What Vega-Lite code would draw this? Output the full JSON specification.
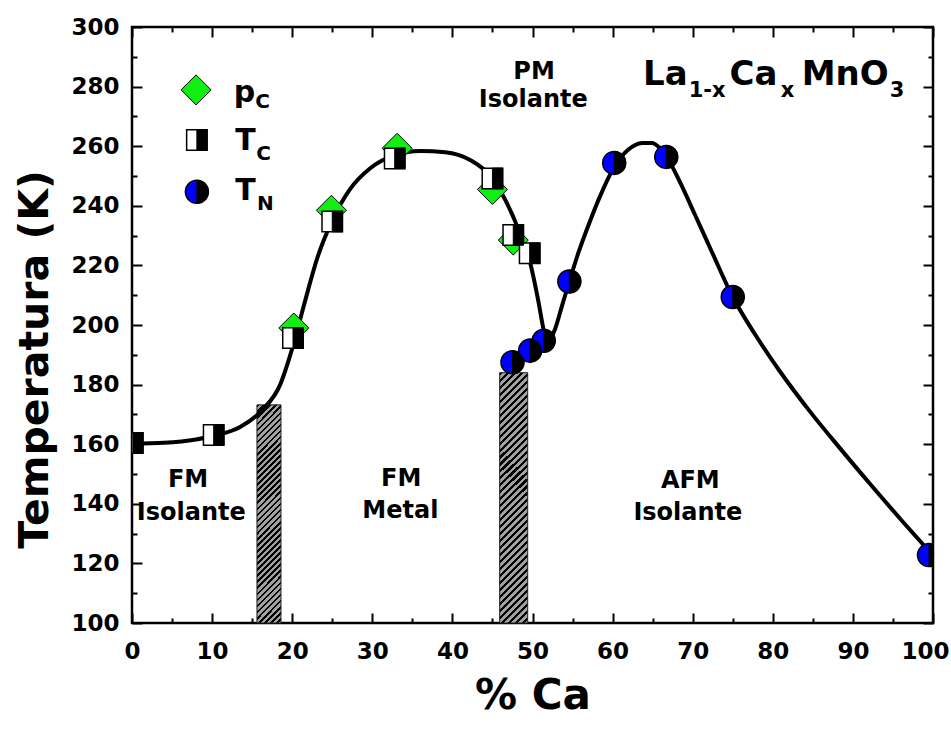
{
  "$schema": "https://vega.github.io/schema/vega-lite/v6.json",
  "width": 801,
  "height": 596,
  "autosize": {"type": "none"},
  "padding": {"left": 132, "top": 27, "right": 18, "bottom": 106},
  "background": "white",
  "config": {"view": {"stroke": "black", "strokeWidth": 2.5}, "font": "DejaVu Sans"},
  "datasets": {
    "bars": [
      {"x0": 15.6, "x1": 18.6, "y0": 100, "y1": 173.2},
      {"x0": 45.9, "x1": 49.4, "y0": 100, "y1": 184}
    ],
    "curve": [
      {"seg": "a", "x": 0, "y": 160.2},
      {"seg": "a", "x": 4, "y": 160.5},
      {"seg": "a", "x": 8, "y": 161.6},
      {"seg": "a", "x": 10.5, "y": 163},
      {"seg": "a", "x": 13.5, "y": 165.8},
      {"seg": "a", "x": 16.2, "y": 171.3},
      {"seg": "a", "x": 18.5, "y": 180},
      {"seg": "a", "x": 20.1, "y": 193},
      {"seg": "a", "x": 21.6, "y": 208},
      {"seg": "a", "x": 23.2, "y": 223},
      {"seg": "a", "x": 25, "y": 235},
      {"seg": "a", "x": 27.2, "y": 245.5},
      {"seg": "a", "x": 29.7, "y": 252.5},
      {"seg": "a", "x": 32.8, "y": 257},
      {"seg": "a", "x": 36, "y": 258.4},
      {"seg": "a", "x": 39.1, "y": 258},
      {"seg": "a", "x": 42.2, "y": 255.4},
      {"seg": "a", "x": 44.9, "y": 249.5},
      {"seg": "a", "x": 46.6, "y": 242},
      {"seg": "a", "x": 48.4, "y": 231},
      {"seg": "a", "x": 49.7, "y": 221},
      {"seg": "a", "x": 50.7, "y": 208.4},
      {"seg": "a", "x": 51.3, "y": 199.5},
      {"seg": "a", "x": 51.8, "y": 193},
      {"seg": "b", "x": 51.8, "y": 193},
      {"seg": "b", "x": 52.8, "y": 198.5},
      {"seg": "b", "x": 53.8, "y": 207.5},
      {"seg": "b", "x": 54.6, "y": 214.6},
      {"seg": "b", "x": 55.7, "y": 224},
      {"seg": "b", "x": 57.2, "y": 235},
      {"seg": "b", "x": 58.4, "y": 243},
      {"seg": "b", "x": 60.2, "y": 253},
      {"seg": "b", "x": 61.9, "y": 258.7},
      {"seg": "b", "x": 63.7, "y": 261.1},
      {"seg": "b", "x": 64.9, "y": 261.1},
      {"seg": "b", "x": 65.9, "y": 259.4},
      {"seg": "b", "x": 66.9, "y": 255.8},
      {"seg": "b", "x": 68.4, "y": 248},
      {"seg": "b", "x": 70.3, "y": 236.9},
      {"seg": "b", "x": 72.4, "y": 224.5},
      {"seg": "b", "x": 75, "y": 209.4},
      {"seg": "b", "x": 77.8, "y": 196.8},
      {"seg": "b", "x": 80.9, "y": 184.4},
      {"seg": "b", "x": 84.6, "y": 171.1},
      {"seg": "b", "x": 88.4, "y": 158.6},
      {"seg": "b", "x": 92.1, "y": 146.8},
      {"seg": "b", "x": 95.9, "y": 135.0},
      {"seg": "b", "x": 100, "y": 122.7}
    ],
    "points": [
      {"series": "pC", "x": 20.2, "y": 199},
      {"series": "pC", "x": 24.9, "y": 238.5},
      {"series": "pC", "x": 33.1, "y": 259.3},
      {"series": "pC", "x": 45.0, "y": 245.5},
      {"series": "pC", "x": 47.6, "y": 228.5},
      {"series": "pC", "x": 8.0, "y": 278.9},
      {"series": "TC", "x": 0.1, "y": 160.4},
      {"series": "TC", "x": 10.2, "y": 163.1},
      {"series": "TC", "x": 20.1, "y": 195.6},
      {"series": "TC", "x": 25, "y": 234.7},
      {"series": "TC", "x": 32.8, "y": 255.9},
      {"series": "TC", "x": 45, "y": 249.2},
      {"series": "TC", "x": 47.6, "y": 230.2},
      {"series": "TC", "x": 49.65, "y": 224.1},
      {"series": "TC", "x": 8.1, "y": 262.1},
      {"series": "TN", "x": 47.5, "y": 187.5},
      {"series": "TN", "x": 49.7, "y": 191.4},
      {"series": "TN", "x": 51.4, "y": 194.7},
      {"series": "TN", "x": 54.6, "y": 214.6},
      {"series": "TN", "x": 60.2, "y": 254.4},
      {"series": "TN", "x": 66.7, "y": 256.4},
      {"series": "TN", "x": 75, "y": 209.4},
      {"series": "TN", "x": 99.5, "y": 122.8},
      {"series": "TN", "x": 8.1, "y": 244.7}
    ],
    "texts": [
      {"role": "region", "x": 7.0, "y": 148, "t": "FM"},
      {"role": "region", "x": 7.4, "y": 136.9, "t": "Isolante"},
      {"role": "region", "x": 33.6, "y": 148.3, "t": "FM"},
      {"role": "region", "x": 33.5, "y": 137.6, "t": "Metal"},
      {"role": "region", "x": 50.2, "y": 284.9, "t": "PM"},
      {"role": "region", "x": 50.1, "y": 275.5, "t": "Isolante"},
      {"role": "region", "x": 69.7, "y": 147.7, "t": "AFM"},
      {"role": "region", "x": 69.4, "y": 136.9, "t": "Isolante"},
      {"role": "legMain", "x": 12.7, "y": 274.9, "t": "p"},
      {"role": "legSub", "x": 15.4, "y": 272.9, "t": "C"},
      {"role": "legMain", "x": 12.9, "y": 258.7, "t": "T"},
      {"role": "legSub", "x": 15.5, "y": 255.4, "t": "C"},
      {"role": "legMain", "x": 12.9, "y": 241.9, "t": "T"},
      {"role": "legSub", "x": 15.6, "y": 238.6, "t": "N"},
      {"role": "titMain", "x": 63.8, "y": 280.5, "t": "La"},
      {"role": "titSub", "x": 69.5, "y": 276.6, "t": "1-x"},
      {"role": "titMain", "x": 74.6, "y": 280.5, "t": "Ca"},
      {"role": "titSub", "x": 81.0, "y": 276.6, "t": "x"},
      {"role": "titMain", "x": 83.6, "y": 280.5, "t": "MnO"},
      {"role": "titSub", "x": 94.6, "y": 276.6, "t": "3"}
    ]
  },
  "resolve": {"axis": {"x": "independent", "y": "independent"}},
  "layer": [
    {
      "data": {"name": "bars"},
      "mark": {
        "type": "rect",
        "stroke": "#222",
        "strokeWidth": 1,
        "fill": {
          "gradient": "linear", "x1": 0, "y1": 0, "x2": 0.122, "y2": 1.1,
          "stops": [
            {"offset": 0, "color": "#000"}, {"offset": 0.011, "color": "#000"}, {"offset": 0.011, "color": "#a0a0a0"}, {"offset": 0.025, "color": "#a0a0a0"},
            {"offset": 0.025, "color": "#000"}, {"offset": 0.036, "color": "#000"}, {"offset": 0.036, "color": "#a0a0a0"}, {"offset": 0.05, "color": "#a0a0a0"},
            {"offset": 0.05, "color": "#000"}, {"offset": 0.061, "color": "#000"}, {"offset": 0.061, "color": "#a0a0a0"}, {"offset": 0.075, "color": "#a0a0a0"},
            {"offset": 0.075, "color": "#000"}, {"offset": 0.086, "color": "#000"}, {"offset": 0.086, "color": "#a0a0a0"}, {"offset": 0.1, "color": "#a0a0a0"},
            {"offset": 0.1, "color": "#000"}, {"offset": 0.111, "color": "#000"}, {"offset": 0.111, "color": "#a0a0a0"}, {"offset": 0.125, "color": "#a0a0a0"},
            {"offset": 0.125, "color": "#000"}, {"offset": 0.136, "color": "#000"}, {"offset": 0.136, "color": "#a0a0a0"}, {"offset": 0.15, "color": "#a0a0a0"},
            {"offset": 0.15, "color": "#000"}, {"offset": 0.161, "color": "#000"}, {"offset": 0.161, "color": "#a0a0a0"}, {"offset": 0.175, "color": "#a0a0a0"},
            {"offset": 0.175, "color": "#000"}, {"offset": 0.186, "color": "#000"}, {"offset": 0.186, "color": "#a0a0a0"}, {"offset": 0.2, "color": "#a0a0a0"},
            {"offset": 0.2, "color": "#000"}, {"offset": 0.211, "color": "#000"}, {"offset": 0.211, "color": "#a0a0a0"}, {"offset": 0.225, "color": "#a0a0a0"},
            {"offset": 0.225, "color": "#000"}, {"offset": 0.236, "color": "#000"}, {"offset": 0.236, "color": "#a0a0a0"}, {"offset": 0.25, "color": "#a0a0a0"},
            {"offset": 0.25, "color": "#000"}, {"offset": 0.261, "color": "#000"}, {"offset": 0.261, "color": "#a0a0a0"}, {"offset": 0.275, "color": "#a0a0a0"},
            {"offset": 0.275, "color": "#000"}, {"offset": 0.286, "color": "#000"}, {"offset": 0.286, "color": "#a0a0a0"}, {"offset": 0.3, "color": "#a0a0a0"},
            {"offset": 0.3, "color": "#000"}, {"offset": 0.311, "color": "#000"}, {"offset": 0.311, "color": "#a0a0a0"}, {"offset": 0.325, "color": "#a0a0a0"},
            {"offset": 0.325, "color": "#000"}, {"offset": 0.336, "color": "#000"}, {"offset": 0.336, "color": "#a0a0a0"}, {"offset": 0.35, "color": "#a0a0a0"},
            {"offset": 0.35, "color": "#000"}, {"offset": 0.361, "color": "#000"}, {"offset": 0.361, "color": "#a0a0a0"}, {"offset": 0.375, "color": "#a0a0a0"},
            {"offset": 0.375, "color": "#000"}, {"offset": 0.386, "color": "#000"}, {"offset": 0.386, "color": "#a0a0a0"}, {"offset": 0.4, "color": "#a0a0a0"},
            {"offset": 0.4, "color": "#000"}, {"offset": 0.411, "color": "#000"}, {"offset": 0.411, "color": "#a0a0a0"}, {"offset": 0.425, "color": "#a0a0a0"},
            {"offset": 0.425, "color": "#000"}, {"offset": 0.436, "color": "#000"}, {"offset": 0.436, "color": "#a0a0a0"}, {"offset": 0.45, "color": "#a0a0a0"},
            {"offset": 0.45, "color": "#000"}, {"offset": 0.461, "color": "#000"}, {"offset": 0.461, "color": "#a0a0a0"}, {"offset": 0.475, "color": "#a0a0a0"},
            {"offset": 0.475, "color": "#000"}, {"offset": 0.486, "color": "#000"}, {"offset": 0.486, "color": "#a0a0a0"}, {"offset": 0.5, "color": "#a0a0a0"},
            {"offset": 0.5, "color": "#000"}, {"offset": 0.511, "color": "#000"}, {"offset": 0.511, "color": "#a0a0a0"}, {"offset": 0.525, "color": "#a0a0a0"},
            {"offset": 0.525, "color": "#000"}, {"offset": 0.536, "color": "#000"}, {"offset": 0.536, "color": "#a0a0a0"}, {"offset": 0.55, "color": "#a0a0a0"},
            {"offset": 0.55, "color": "#000"}, {"offset": 0.561, "color": "#000"}, {"offset": 0.561, "color": "#a0a0a0"}, {"offset": 0.575, "color": "#a0a0a0"},
            {"offset": 0.575, "color": "#000"}, {"offset": 0.586, "color": "#000"}, {"offset": 0.586, "color": "#a0a0a0"}, {"offset": 0.6, "color": "#a0a0a0"},
            {"offset": 0.6, "color": "#000"}, {"offset": 0.611, "color": "#000"}, {"offset": 0.611, "color": "#a0a0a0"}, {"offset": 0.625, "color": "#a0a0a0"},
            {"offset": 0.625, "color": "#000"}, {"offset": 0.636, "color": "#000"}, {"offset": 0.636, "color": "#a0a0a0"}, {"offset": 0.65, "color": "#a0a0a0"},
            {"offset": 0.65, "color": "#000"}, {"offset": 0.661, "color": "#000"}, {"offset": 0.661, "color": "#a0a0a0"}, {"offset": 0.675, "color": "#a0a0a0"},
            {"offset": 0.675, "color": "#000"}, {"offset": 0.686, "color": "#000"}, {"offset": 0.686, "color": "#a0a0a0"}, {"offset": 0.7, "color": "#a0a0a0"},
            {"offset": 0.7, "color": "#000"}, {"offset": 0.711, "color": "#000"}, {"offset": 0.711, "color": "#a0a0a0"}, {"offset": 0.725, "color": "#a0a0a0"},
            {"offset": 0.725, "color": "#000"}, {"offset": 0.736, "color": "#000"}, {"offset": 0.736, "color": "#a0a0a0"}, {"offset": 0.75, "color": "#a0a0a0"},
            {"offset": 0.75, "color": "#000"}, {"offset": 0.761, "color": "#000"}, {"offset": 0.761, "color": "#a0a0a0"}, {"offset": 0.775, "color": "#a0a0a0"},
            {"offset": 0.775, "color": "#000"}, {"offset": 0.786, "color": "#000"}, {"offset": 0.786, "color": "#a0a0a0"}, {"offset": 0.8, "color": "#a0a0a0"},
            {"offset": 0.8, "color": "#000"}, {"offset": 0.811, "color": "#000"}, {"offset": 0.811, "color": "#a0a0a0"}, {"offset": 0.825, "color": "#a0a0a0"},
            {"offset": 0.825, "color": "#000"}, {"offset": 0.836, "color": "#000"}, {"offset": 0.836, "color": "#a0a0a0"}, {"offset": 0.85, "color": "#a0a0a0"},
            {"offset": 0.85, "color": "#000"}, {"offset": 0.861, "color": "#000"}, {"offset": 0.861, "color": "#a0a0a0"}, {"offset": 0.875, "color": "#a0a0a0"},
            {"offset": 0.875, "color": "#000"}, {"offset": 0.886, "color": "#000"}, {"offset": 0.886, "color": "#a0a0a0"}, {"offset": 0.9, "color": "#a0a0a0"},
            {"offset": 0.9, "color": "#000"}, {"offset": 0.911, "color": "#000"}, {"offset": 0.911, "color": "#a0a0a0"}, {"offset": 0.925, "color": "#a0a0a0"},
            {"offset": 0.925, "color": "#000"}, {"offset": 0.936, "color": "#000"}, {"offset": 0.936, "color": "#a0a0a0"}, {"offset": 0.95, "color": "#a0a0a0"},
            {"offset": 0.95, "color": "#000"}, {"offset": 0.961, "color": "#000"}, {"offset": 0.961, "color": "#a0a0a0"}, {"offset": 0.975, "color": "#a0a0a0"},
            {"offset": 0.975, "color": "#000"}, {"offset": 0.986, "color": "#000"}, {"offset": 0.986, "color": "#a0a0a0"}, {"offset": 1, "color": "#a0a0a0"}
          ]
        }
      },
      "encoding": {
        "x": {"field": "x0", "type": "quantitative", "scale": {"domain": [0, 100], "nice": false, "zero": false},
          "axis": {"orient": "bottom", "values": [0, 10, 20, 30, 40, 50, 60, 70, 80, 90, 100], "ticks": false, "tickSize": 0, "domain": false, "grid": false,
            "labelFont": "DejaVu Sans", "labelFontWeight": "bold", "labelFontSize": 23, "labelColor": "black", "labelPadding": 17, "labelFlush": false, "labelOverlap": false, "labelBound": false,
            "labelAlign": {"condition": {"test": "datum.value === 100", "value": "right"}, "value": "center"},
            "labelOffset": {"condition": {"test": "datum.value === 100", "value": 16}, "value": 0},
            "title": "% Ca", "titleFont": "DejaVu Sans", "titleFontWeight": "bold", "titleFontSize": 42, "titleColor": "black", "titlePadding": 12}},
        "x2": {"field": "x1"},
        "y": {"field": "y0", "type": "quantitative", "scale": {"domain": [100, 300], "nice": false, "zero": false},
          "axis": {"orient": "left", "values": [100, 120, 140, 160, 180, 200, 220, 240, 260, 280, 300], "ticks": false, "tickSize": 0, "domain": false, "grid": false,
            "labelFont": "DejaVu Sans", "labelFontWeight": "bold", "labelFontSize": 23, "labelColor": "black", "labelPadding": 13, "labelFlush": false, "labelOverlap": false, "labelBound": false,
            "title": "Temperatura (K)", "titleFont": "DejaVu Sans", "titleFontWeight": "bold", "titleFontSize": 41, "titleColor": "black", "titlePadding": 14, "titleY": 332}},
        "y2": {"field": "y1"}
      }
    },
    {
      "data": {"name": "curve"},
      "mark": {"type": "line", "color": "black", "strokeWidth": 4, "interpolate": "monotone"},
      "encoding": {
        "x": {"field": "x", "type": "quantitative", "scale": {"domain": [0, 100], "nice": false, "zero": false},
          "axis": {"orient": "bottom", "values": [0, 10, 20, 30, 40, 50, 60, 70, 80, 90, 100], "labels": false, "domain": false, "grid": false, "tickSize": -10, "tickWidth": 2, "tickColor": "black", "title": null}},
        "y": {"field": "y", "type": "quantitative", "scale": {"domain": [100, 300], "nice": false, "zero": false},
          "axis": {"orient": "left", "values": [100, 120, 140, 160, 180, 200, 220, 240, 260, 280, 300], "labels": false, "domain": false, "grid": false, "tickSize": -10, "tickWidth": 2, "tickColor": "black", "title": null}},
        "detail": {"field": "seg"}
      }
    },
    {
      "data": {"name": "points"},
      "transform": [{"filter": "datum.series === 'pC'"}],
      "mark": {"type": "point", "shape": "diamond", "size": 900, "filled": true, "fill": "#11ee11", "stroke": "black", "strokeWidth": 1, "opacity": 1, "clip": true},
      "encoding": {
        "x": {"field": "x", "type": "quantitative", "scale": {"domain": [0, 100], "nice": false, "zero": false},
          "axis": {"orient": "bottom", "values": [5, 15, 25, 35, 45, 55, 65, 75, 85, 95], "labels": false, "domain": false, "grid": false, "tickSize": -5, "tickWidth": 2, "tickColor": "black", "title": null}},
        "y": {"field": "y", "type": "quantitative", "scale": {"domain": [100, 300], "nice": false, "zero": false},
          "axis": {"orient": "left", "values": [110, 130, 150, 170, 190, 210, 230, 250, 270, 290], "labels": false, "domain": false, "grid": false, "tickSize": -5, "tickWidth": 2, "tickColor": "black", "title": null}}
      }
    },
    {
      "data": {"name": "points"},
      "transform": [{"filter": "datum.series === 'TC'"}],
      "mark": {"type": "point", "shape": "square", "size": 420, "filled": true, "fill": "white", "stroke": "black", "strokeWidth": 1.5, "opacity": 1, "clip": true},
      "encoding": {
        "x": {"field": "x", "type": "quantitative", "scale": {"domain": [0, 100], "nice": false, "zero": false},
          "axis": {"orient": "top", "values": [0, 10, 20, 30, 40, 50, 60, 70, 80, 90, 100], "labels": false, "domain": false, "grid": false, "tickSize": -10, "tickWidth": 2, "tickColor": "black", "title": null}},
        "y": {"field": "y", "type": "quantitative", "scale": {"domain": [100, 300], "nice": false, "zero": false},
          "axis": {"orient": "right", "values": [100, 120, 140, 160, 180, 200, 220, 240, 260, 280, 300], "labels": false, "domain": false, "grid": false, "tickSize": -10, "tickWidth": 2, "tickColor": "black", "title": null}}
      }
    },
    {
      "data": {"name": "points"},
      "transform": [{"filter": "datum.series === 'TC'"}],
      "mark": {"type": "point", "shape": "M0,-1L1,-1L1,1L0,1Z", "size": 420, "filled": true, "fill": "black", "stroke": "black", "strokeWidth": 1, "opacity": 1, "clip": true},
      "encoding": {
        "x": {"field": "x", "type": "quantitative", "scale": {"domain": [0, 100], "nice": false, "zero": false},
          "axis": {"orient": "top", "values": [5, 15, 25, 35, 45, 55, 65, 75, 85, 95], "labels": false, "domain": false, "grid": false, "tickSize": -5, "tickWidth": 2, "tickColor": "black", "title": null}},
        "y": {"field": "y", "type": "quantitative", "scale": {"domain": [100, 300], "nice": false, "zero": false},
          "axis": {"orient": "right", "values": [110, 130, 150, 170, 190, 210, 230, 250, 270, 290], "labels": false, "domain": false, "grid": false, "tickSize": -5, "tickWidth": 2, "tickColor": "black", "title": null}}
      }
    },
    {
      "data": {"name": "points"},
      "transform": [{"filter": "datum.series === 'TN'"}],
      "mark": {"type": "point", "shape": "circle", "size": 530, "filled": true, "fill": "#0000ff", "stroke": "black", "strokeWidth": 1.5, "opacity": 1, "clip": true},
      "encoding": {
        "x": {"field": "x", "type": "quantitative", "scale": {"domain": [0, 100], "nice": false, "zero": false}, "axis": null},
        "y": {"field": "y", "type": "quantitative", "scale": {"domain": [100, 300], "nice": false, "zero": false}, "axis": null}
      }
    },
    {
      "data": {"name": "points"},
      "transform": [{"filter": "datum.series === 'TN'"}],
      "mark": {"type": "point", "shape": "M0,-1L0.383,-0.924L0.707,-0.707L0.924,-0.383L1,0L0.924,0.383L0.707,0.707L0.383,0.924L0,1Z", "size": 530, "filled": true, "fill": "black", "stroke": "black", "strokeWidth": 1, "opacity": 1, "clip": true},
      "encoding": {
        "x": {"field": "x", "type": "quantitative", "scale": {"domain": [0, 100], "nice": false, "zero": false}, "axis": null},
        "y": {"field": "y", "type": "quantitative", "scale": {"domain": [100, 300], "nice": false, "zero": false}, "axis": null}
      }
    },
    {
      "data": {"name": "texts"},
      "transform": [{"filter": "datum.role === 'region'"}],
      "mark": {"type": "text", "align": "center", "baseline": "middle", "font": "DejaVu Sans", "fontWeight": "bold", "fontSize": 24, "color": "black"},
      "encoding": {
        "x": {"field": "x", "type": "quantitative", "axis": null},
        "y": {"field": "y", "type": "quantitative", "axis": null},
        "text": {"field": "t"}
      }
    },
    {
      "data": {"name": "texts"},
      "transform": [{"filter": "datum.role === 'legMain'"}],
      "mark": {"type": "text", "align": "left", "baseline": "alphabetic", "font": "DejaVu Sans", "fontWeight": "bold", "fontSize": 30, "color": "black"},
      "encoding": {
        "x": {"field": "x", "type": "quantitative", "axis": null},
        "y": {"field": "y", "type": "quantitative", "axis": null},
        "text": {"field": "t"}
      }
    },
    {
      "data": {"name": "texts"},
      "transform": [{"filter": "datum.role === 'legSub'"}],
      "mark": {"type": "text", "align": "left", "baseline": "alphabetic", "font": "DejaVu Sans", "fontWeight": "bold", "fontSize": 20, "color": "black"},
      "encoding": {
        "x": {"field": "x", "type": "quantitative", "axis": null},
        "y": {"field": "y", "type": "quantitative", "axis": null},
        "text": {"field": "t"}
      }
    },
    {
      "data": {"name": "texts"},
      "transform": [{"filter": "datum.role === 'titMain'"}],
      "mark": {"type": "text", "align": "left", "baseline": "alphabetic", "font": "DejaVu Sans", "fontWeight": "bold", "fontSize": 34, "color": "black"},
      "encoding": {
        "x": {"field": "x", "type": "quantitative", "axis": null},
        "y": {"field": "y", "type": "quantitative", "axis": null},
        "text": {"field": "t"}
      }
    },
    {
      "data": {"name": "texts"},
      "transform": [{"filter": "datum.role === 'titSub'"}],
      "mark": {"type": "text", "align": "left", "baseline": "alphabetic", "font": "DejaVu Sans", "fontWeight": "bold", "fontSize": 21, "color": "black"},
      "encoding": {
        "x": {"field": "x", "type": "quantitative", "axis": null},
        "y": {"field": "y", "type": "quantitative", "axis": null},
        "text": {"field": "t"}
      }
    }
  ]
}
